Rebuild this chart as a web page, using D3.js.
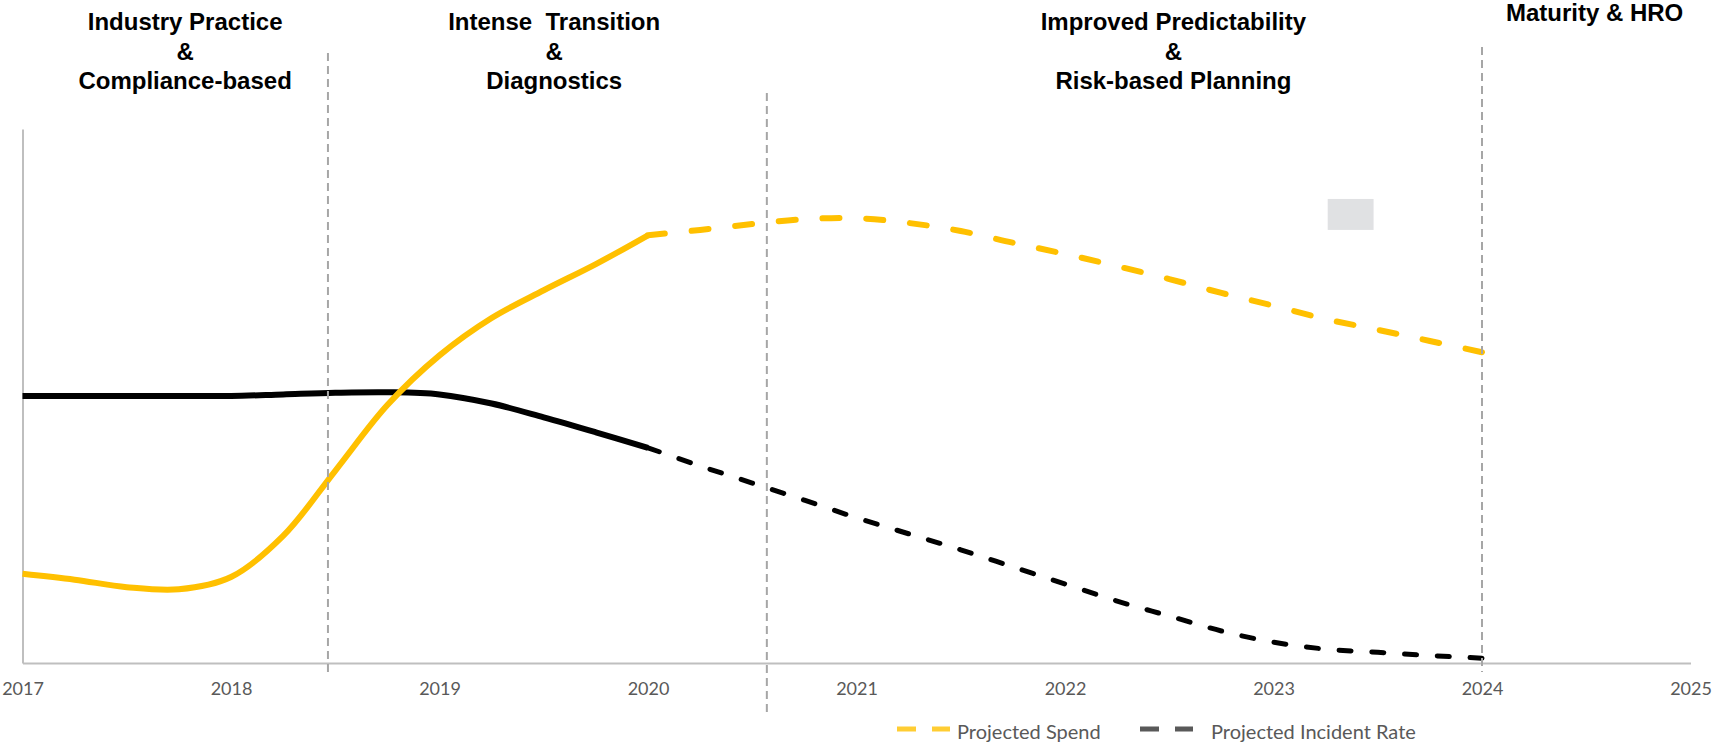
<!DOCTYPE html>
<html>
<head>
<meta charset="utf-8">
<script src="https://cdn.jsdelivr.net/npm/d3@7"></script>
<style>
  html, body { margin: 0; padding: 0; background: #fff; }
  #chart { width: 1712px; height: 748px; }
  .phase { font-family: "Liberation Sans", Arial, sans-serif; font-weight: bold; font-size: 24px; fill: #000; white-space: pre; }
  .tick text { font-family: Lato, "Open Sans", sans-serif; font-size: 18px; fill: #595959; }
  .legend text { font-family: Lato, "Open Sans", sans-serif; font-size: 20px; fill: #595959; }
</style>
</head>
<body>
<div id="chart"></div>
<script>
// x values (years) shared by both series
const years = [2017, 2017.25, 2017.5, 2017.75, 2018, 2018.25, 2018.5, 2018.75,
               2019, 2019.25, 2019.5, 2019.75, 2020, 2020.25, 2020.5, 2020.75,
               2021, 2021.25, 2021.5, 2021.75, 2022, 2022.25, 2022.5, 2022.75,
               2023, 2023.25, 2023.5, 2023.75, 2024];
const spend = [16.7, 15.6, 14.2, 13.8, 16.1, 23.8, 36.0, 48.3,
               57.6, 64.6, 69.8, 74.7, 80.1, 81.1, 82.2, 83.1,
               83.3, 82.4, 80.9, 78.7, 76.6, 74.3, 71.9, 69.3,
               66.9, 64.4, 62.4, 60.3, 58.2];
const incident = [50.0, 50.0, 50.0, 50.0, 50.0, 50.3, 50.6, 50.7,
                  50.3, 48.6, 46.0, 43.2, 40.3, 36.9, 33.7, 30.5,
                  27.2, 24.2, 21.2, 18.0, 14.8, 11.6, 8.8, 6.0,
                  3.9, 2.6, 2.0, 1.4, 0.9];
const projectionStart = 2020;
const tickYears = [2017, 2018, 2019, 2020, 2021, 2022, 2023, 2024, 2025];

const phaseNames = [
  ['Industry Practice', '&', 'Compliance-based'],
  ['Intense  Transition', '&', 'Diagnostics'],
  ['Improved Predictability', '&', 'Risk-based Planning'],
  ['Maturity & HRO']
];
const phaseCenters = [2017.78, 2019.55, 2022.52, 2024.54];
const dividerYears = [2018.465, 2020.57, 2024];
const dividerTops = [53, 93, 47];
const dividerBottoms = [672, 712, 672];

const seriesNames = ['Projected Spend', 'Projected Incident Rate'];

const width = 1712, height = 748;
const yellow = '#ffc000';

const svg = d3.select('#chart')
  .append('svg')
  .attr('width', width)
  .attr('height', height);

const x = d3.scaleLinear().domain([2017, 2025]).range([22.5, 1690.5]);
const y = d3.scaleLinear().domain([0, 100]).range([663, 129]);

// axes
const xAxis = d3.axisBottom(x)
  .tickValues(tickYears)
  .tickSize(0)
  .tickPadding(19)
  .tickFormat(d3.format('d'));

svg.append('g')
  .attr('transform', `translate(0, ${y(0)})`)
  .call(xAxis)
  .call(g => g.select('.domain').attr('stroke', '#bfbfbf').attr('stroke-width', 2));

svg.append('g')
  .attr('transform', `translate(${x(2017)}, 0)`)
  .call(d3.axisLeft(y).tickValues([]).tickSize(0))
  .call(g => g.select('.domain').attr('stroke', '#bfbfbf').attr('stroke-width', 2));

// grey box left over in the original
svg.append('rect')
  .attr('x', x(2023.26))
  .attr('y', y(86.9))
  .attr('width', x(2023.48) - x(2023.26))
  .attr('height', y(81.1) - y(86.9))
  .attr('fill', '#e0e1e3');

// series
const line = d3.line()
  .x(d => x(d[0]))
  .y(d => y(d[1]))
  .curve(d3.curveCatmullRom.alpha(0.5));

// stretch the dash period a little so the dashed part starts and ends on a dash
const fitDash = (path, dash, period) => {
  const len = path.node().getTotalLength();
  const n = Math.max(1, Math.round((len - dash) / period));
  const p = (len - dash) / n;
  path.attr('stroke-dasharray', `${dash} ${p - dash}`);
};

const drawSeries = (values, color, dash, period, dashWidth) => {
  const pts = years.map((yr, i) => [yr, values[i]]);
  svg.append('path')
    .datum(pts.filter(d => d[0] <= projectionStart))
    .attr('d', line)
    .attr('fill', 'none')
    .attr('stroke', color)
    .attr('stroke-width', 6);
  const proj = svg.append('path')
    .datum(pts.filter(d => d[0] >= projectionStart))
    .attr('d', line)
    .attr('fill', 'none')
    .attr('stroke', color)
    .attr('stroke-width', dashWidth)
    .attr('stroke-linecap', 'round');
  fitDash(proj, dash, period);
};

drawSeries(incident, '#000', 12, 33, 5);
drawSeries(spend, yellow, 17, 45, 6);

// phase dividers
svg.selectAll('line.divider')
  .data(dividerYears)
  .enter()
  .append('line')
  .attr('class', 'divider')
  .attr('x1', d => x(d))
  .attr('x2', d => x(d))
  .attr('y1', (d, i) => dividerTops[i])
  .attr('y2', (d, i) => dividerBottoms[i])
  .attr('stroke', '#a6a6a6')
  .attr('stroke-width', 2)
  .attr('stroke-dasharray', '8 5');

// phase titles
const phases = svg.selectAll('text.phase')
  .data(phaseNames)
  .enter()
  .append('text')
  .attr('class', 'phase')
  .attr('text-anchor', 'middle')
  .attr('x', (d, i) => x(phaseCenters[i]))
  .attr('y', (d, i) => d.length === 1 ? 21 : 30);

phases.selectAll('tspan')
  .data(d => d)
  .enter()
  .append('tspan')
  .attr('x', function () { return d3.select(this.parentNode).attr('x'); })
  .attr('dy', (d, i) => i === 0 ? 0 : 29.5)
  .text(d => d);

// legend
const legendX = [897, 1140];
const legendTextX = [957, 1211];
const legendColors = [yellow, '#595959'];
const legend = svg.append('g').attr('class', 'legend');
seriesNames.forEach((name, i) => {
  legend.append('line')
    .attr('x1', legendX[i])
    .attr('x2', legendX[i] + 53)
    .attr('y1', 729)
    .attr('y2', 729)
    .attr('stroke', legendColors[i])
    .attr('stroke-opacity', i === 0 ? 0.8 : 1)
    .attr('stroke-width', 5)
    .attr('stroke-dasharray', '19 16');
  legend.append('text')
    .attr('x', legendTextX[i])
    .attr('y', 734)
    .attr('dominant-baseline', 'middle')
    .text(name);
});
</script>
</body>
</html>
